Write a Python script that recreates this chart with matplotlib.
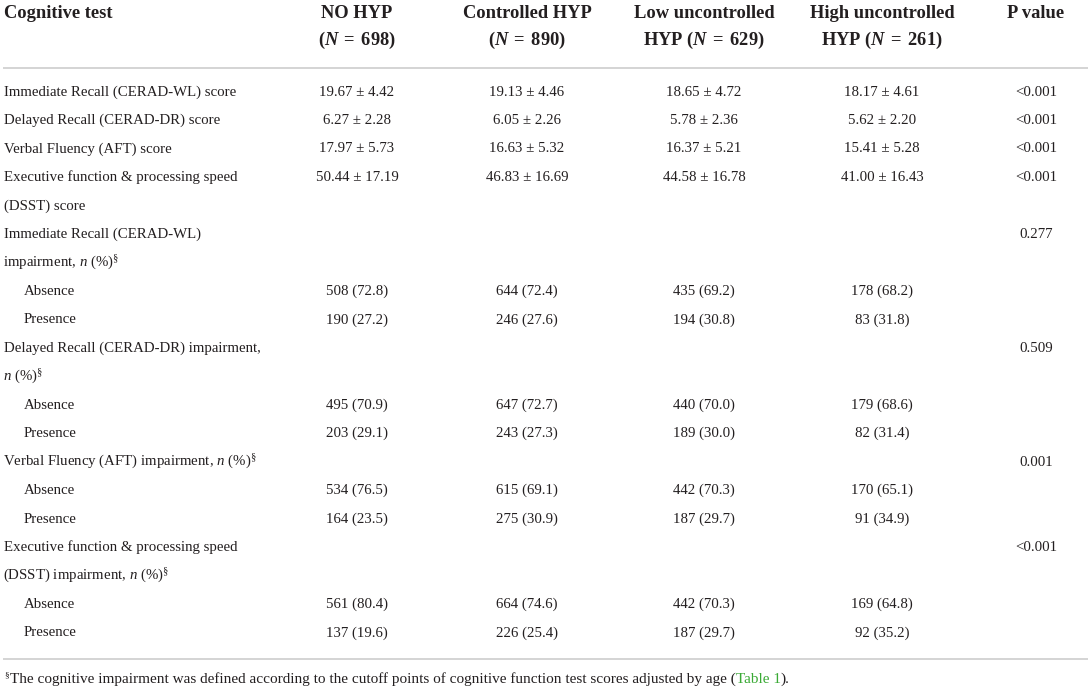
import matplotlib
matplotlib.use("Agg")
import matplotlib.pyplot as plt

plt.rcParams['font.family'] = ['Liberation Serif', 'DejaVu Serif']
plt.rcParams['mathtext.fontset'] = 'custom'
plt.rcParams['mathtext.rm'] = 'Liberation Serif'
plt.rcParams['mathtext.it'] = 'Liberation Serif:italic'
plt.rcParams['mathtext.bf'] = 'Liberation Serif:bold'
plt.rcParams['mathtext.bfit'] = 'Liberation Serif:italic:bold'

# ---------------- data ----------------
group_names = ["NO HYP", "Controlled HYP", "Low uncontrolled HYP", "High uncontrolled HYP"]
group_n = [698, 890, 629, 261]

score_tests = [
    ["Immediate Recall (CERAD-WL) score"],
    ["Delayed Recall (CERAD-DR) score"],
    ["Verbal Fluency (AFT) score"],
    ["Executive function & processing speed", "(DSST) score"],
]
score_means = [
    [19.67, 19.13, 18.65, 18.17],
    [6.27, 6.05, 5.78, 5.62],
    [17.97, 16.63, 16.37, 15.41],
    [50.44, 46.83, 44.58, 41.00],
]
score_sds = [
    [4.42, 4.46, 4.72, 4.61],
    [2.28, 2.26, 2.36, 2.20],
    [5.73, 5.32, 5.21, 5.28],
    [17.19, 16.69, 16.78, 16.43],
]
score_p = ["<0.001", "<0.001", "<0.001", "<0.001"]

imp_tests = [
    ["Immediate Recall (CERAD-WL)", r"impairment, $\mathit{n}$ (%)$^{\mathrm{§}}$"],
    ["Delayed Recall (CERAD-DR) impairment,", r"$\mathit{n}$ (%)$^{\mathrm{§}}$"],
    [r"Verbal Fluency (AFT) impairment, $\mathit{n}$ (%)$^{\mathrm{§}}$"],
    ["Executive function & processing speed", r"(DSST) impairment, $\mathit{n}$ (%)$^{\mathrm{§}}$"],
]
imp_absence_n = [
    [508, 644, 435, 178],
    [495, 647, 440, 179],
    [534, 615, 442, 170],
    [561, 664, 442, 169],
]
imp_absence_pct = [
    [72.8, 72.4, 69.2, 68.2],
    [70.9, 72.7, 70.0, 68.6],
    [76.5, 69.1, 70.3, 65.1],
    [80.4, 74.6, 70.3, 64.8],
]
imp_presence_n = [
    [190, 246, 194, 83],
    [203, 243, 189, 82],
    [164, 275, 187, 91],
    [137, 226, 187, 92],
]
imp_presence_pct = [
    [27.2, 27.6, 30.8, 31.8],
    [29.1, 27.3, 30.0, 31.4],
    [23.5, 30.9, 29.7, 34.9],
    [19.6, 25.4, 29.7, 35.2],
]
imp_p = ["0.277", "0.509", "0.001", "<0.001"]
sub_labels = ["Absence", "Presence"]

footnote_mark = "§"
footnote_parts = [
    ("The cognitive impairment was defined according to the cutoff points of cognitive function test scores adjusted by age (", "#231f20"),
    ("Table 1", "#3aaa35"),
    (").", "#231f20"),
]

# ---------------- layout ----------------
W, H = 1091, 690
fig = plt.figure(figsize=(W / 100, H / 100), dpi=100)
ax = fig.add_axes([0, 0, 1, 1])
ax.set_xlim(0, W)
ax.set_ylim(H, 0)
ax.axis('off')

TXT = "#231f20"
RULE = "#d4d4d4"
fs = 10.7
hfs = 13.3
x_label = 4
x_sub = 24
col_x = [357, 527, 704, 882]
p_x = 1036

# header
ax.text(x_label, 13, "Cognitive test", fontsize=hfs, fontweight='bold', color=TXT, va='center', ha='left')
header_lines = []
for name, n in zip(group_names, group_n):
    nstr = r"$\mathbf{(}\mathbfit{N}\;\mathbf{=}\;\mathbf{" + str(n) + r")}$"
    if name.endswith("uncontrolled HYP"):
        header_lines.append((name.replace(" HYP", ""), "HYP " + nstr))
    else:
        header_lines.append((name, nstr))
for x, (l1, l2) in zip(col_x, header_lines):
    ax.text(x, 13, l1, fontsize=hfs, fontweight='bold', color=TXT, va='center', ha='center')
    ax.text(x, 40, l2, fontsize=hfs, fontweight='bold', color=TXT, va='center', ha='center')
ax.text(p_x, 13, "P value", fontsize=hfs, fontweight='bold', color=TXT, va='center', ha='center')

ax.plot([3, 1088], [68, 68], color=RULE, lw=1.4, solid_capstyle='butt')

y0 = 92
step = 28.47
line = 0


def yl(i):
    return y0 + i * step


for lab, means, sds, p in zip(score_tests, score_means, score_sds, score_p):
    y = yl(line)
    for k, l in enumerate(lab):
        ax.text(x_label, yl(line + k), l, fontsize=fs, color=TXT, va='center', ha='left')
    for x, m, s in zip(col_x, means, sds):
        ax.text(x, y, f"{m:.2f} ± {s:.2f}", fontsize=fs, color=TXT, va='center', ha='center')
    ax.text(p_x, y, p, fontsize=fs, color=TXT, va='center', ha='center')
    line += len(lab)

for lab, an, ap, pn, pp, p in zip(imp_tests, imp_absence_n, imp_absence_pct,
                                   imp_presence_n, imp_presence_pct, imp_p):
    y = yl(line)
    for k, l in enumerate(lab):
        ax.text(x_label - (1 if '$' in l else 0), yl(line + k), l, fontsize=fs, color=TXT,
                va='center', ha='left')
    ax.text(p_x, y, p, fontsize=fs, color=TXT, va='center', ha='center')
    line += len(lab)
    for sl, ns, ps in zip(sub_labels, [an, pn], [ap, pp]):
        ys = yl(line)
        ax.text(x_sub, ys, sl, fontsize=fs, color=TXT, va='center', ha='left')
        for x, n, pc in zip(col_x, ns, ps):
            ax.text(x, ys, f"{n} ({pc:.1f})", fontsize=fs, color=TXT, va='center', ha='center')
        line += 1

ax.plot([3, 1088], [659, 659], color=RULE, lw=1.4, solid_capstyle='butt')

# footnote with coloured reference (shared baseline)
fig.canvas.draw()
renderer = fig.canvas.get_renderer()
ffs = 10.95
base_y = 683
ax.text(4, base_y - 6, footnote_mark, fontsize=ffs * 0.62, color=TXT, va='baseline', ha='left')
xcur = 10
for txt, col in footnote_parts:
    t = ax.text(xcur, base_y, txt, fontsize=ffs, color=col, va='baseline', ha='left')
    bb = t.get_window_extent(renderer=renderer)
    xcur = ax.transData.inverted().transform((bb.x1, bb.y0))[0]

fig.savefig("out.png", dpi=100)
